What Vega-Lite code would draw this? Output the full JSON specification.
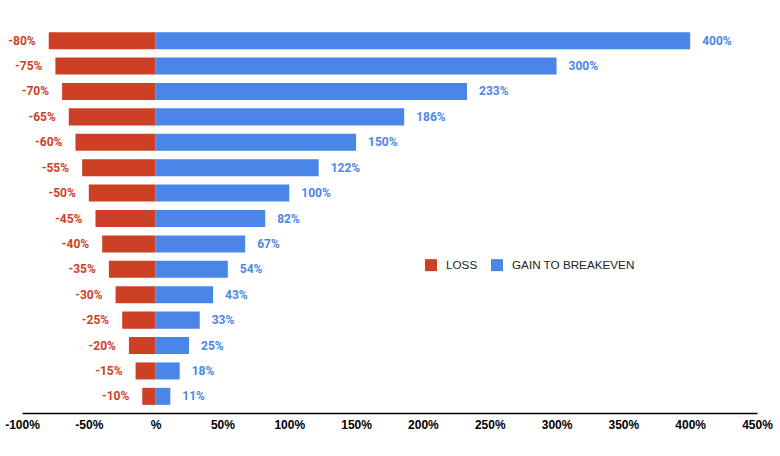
{
  "$schema": "https://vega.github.io/schema/vega-lite/v6.json",
  "width": 735,
  "height": 389,
  "autosize": {"type": "none"},
  "padding": {"left": 22, "top": 24, "right": 23, "bottom": 43},
  "background": "white",
  "config": {"view": {"stroke": null}},
  "data": {
    "values": [
      {"k": -80, "series": "LOSS", "value": -80}, {"k": -80, "series": "GAIN TO BREAKEVEN", "value": 400},
      {"k": -75, "series": "LOSS", "value": -75}, {"k": -75, "series": "GAIN TO BREAKEVEN", "value": 300},
      {"k": -70, "series": "LOSS", "value": -70}, {"k": -70, "series": "GAIN TO BREAKEVEN", "value": 233},
      {"k": -65, "series": "LOSS", "value": -65}, {"k": -65, "series": "GAIN TO BREAKEVEN", "value": 186},
      {"k": -60, "series": "LOSS", "value": -60}, {"k": -60, "series": "GAIN TO BREAKEVEN", "value": 150},
      {"k": -55, "series": "LOSS", "value": -55}, {"k": -55, "series": "GAIN TO BREAKEVEN", "value": 122},
      {"k": -50, "series": "LOSS", "value": -50}, {"k": -50, "series": "GAIN TO BREAKEVEN", "value": 100},
      {"k": -45, "series": "LOSS", "value": -45}, {"k": -45, "series": "GAIN TO BREAKEVEN", "value": 82},
      {"k": -40, "series": "LOSS", "value": -40}, {"k": -40, "series": "GAIN TO BREAKEVEN", "value": 67},
      {"k": -35, "series": "LOSS", "value": -35}, {"k": -35, "series": "GAIN TO BREAKEVEN", "value": 54},
      {"k": -30, "series": "LOSS", "value": -30}, {"k": -30, "series": "GAIN TO BREAKEVEN", "value": 43},
      {"k": -25, "series": "LOSS", "value": -25}, {"k": -25, "series": "GAIN TO BREAKEVEN", "value": 33},
      {"k": -20, "series": "LOSS", "value": -20}, {"k": -20, "series": "GAIN TO BREAKEVEN", "value": 25},
      {"k": -15, "series": "LOSS", "value": -15}, {"k": -15, "series": "GAIN TO BREAKEVEN", "value": 18},
      {"k": -10, "series": "LOSS", "value": -10}, {"k": -10, "series": "GAIN TO BREAKEVEN", "value": 11}
    ]
  },
  "encoding": {
    "y": {
      "field": "k",
      "type": "ordinal",
      "sort": "ascending",
      "axis": null,
      "scale": {"paddingInner": 0.33, "paddingOuter": 0.32}
    },
    "x": {
      "field": "value",
      "type": "quantitative",
      "scale": {"domain": [-100, 450], "nice": false, "zero": false},
      "axis": {
        "title": null,
        "values": [-100, -50, 0, 50, 100, 150, 200, 250, 300, 350, 400, 450],
        "labelExpr": "datum.value == 0 ? '%' : datum.value + '%'",
        "grid": false,
        "ticks": false,
        "domain": true,
        "domainColor": "#000000",
        "domainWidth": 1.5,
        "labelFont": "Liberation Sans",
        "labelFontSize": 12,
        "labelFontWeight": "bold",
        "labelColor": "#000000",
        "labelPadding": 6,
        "labelFlush": false,
        "labelOverlap": false
      }
    }
  },
  "layer": [
    {
      "mark": {"type": "bar"},
      "encoding": {
        "color": {
          "field": "series",
          "type": "nominal",
          "scale": {"domain": ["LOSS", "GAIN TO BREAKEVEN"], "range": ["#cc4125", "#4a86e8"]},
          "legend": {
            "title": null,
            "orient": "none",
            "direction": "horizontal",
            "legendX": 403,
            "legendY": 235,
            "symbolType": "square",
            "symbolSize": 144,
            "symbolStrokeWidth": 0,
            "labelFont": "Liberation Sans",
            "labelFontSize": 11.7,
            "labelColor": "#222222",
            "labelOffset": 9,
            "columnPadding": 13
          }
        }
      }
    },
    {
      "mark": {
        "type": "text",
        "font": "Roboto",
        "fontSize": 12,
        "fontWeight": "bold",
        "baseline": "middle",
        "align": {"expr": "datum.value < 0 ? 'right' : 'left'"},
        "dx": {"expr": "datum.value < 0 ? -13 : 12"},
        "fill": {"expr": "datum.value < 0 ? '#cc4125' : '#4a86e8'"},
        "text": {"expr": "datum.value + '%'"}
      },
      "encoding": {}
    }
  ]
}
